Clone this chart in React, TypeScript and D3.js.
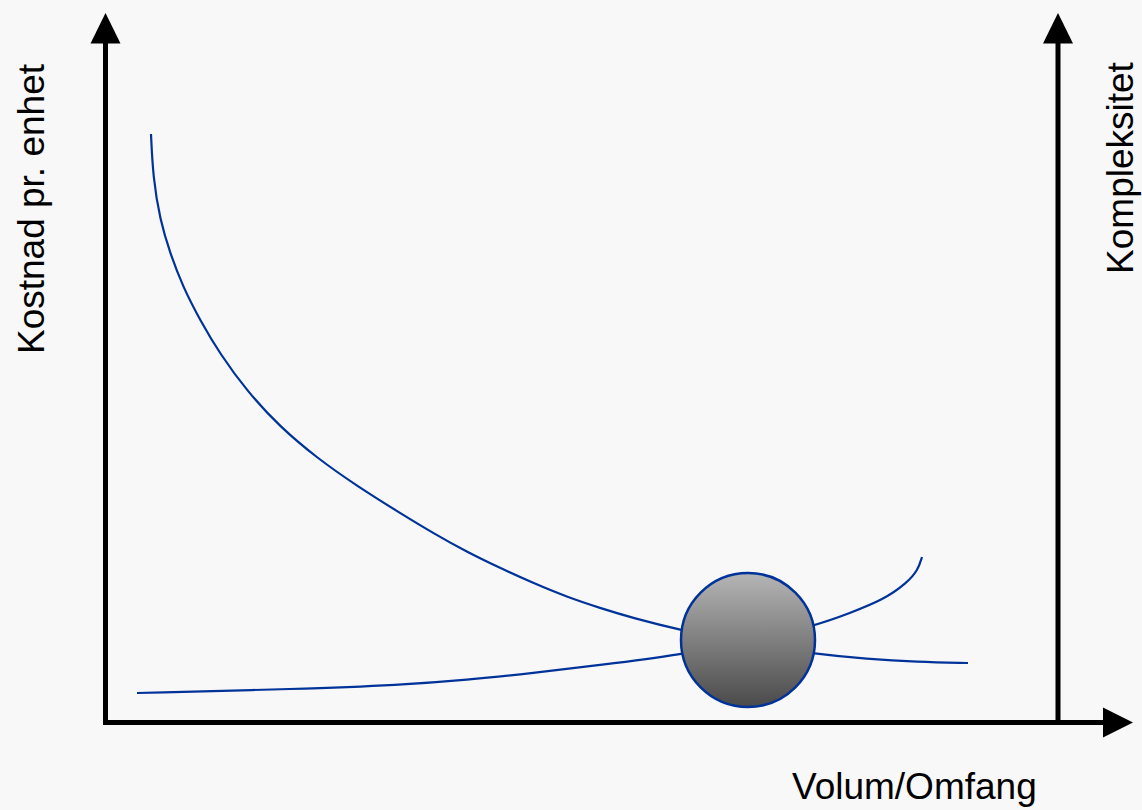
import React, { useEffect, useRef } from "react";
import * as d3 from "d3";

// Curve values (x = volume, y = value)
const costVolume = [46, 48, 55, 65, 78, 95, 115, 142, 175, 212, 252, 295, 328, 362, 395, 428, 462, 495, 528, 575, 643, 710, 762, 812, 863];
const costValue = [588, 545, 502, 469, 435, 402, 368, 331, 295, 264, 236, 209, 189, 170, 154, 139, 125, 114, 104, 92, 78, 68, 63, 60, 59];

const complexityVolume = [32, 195, 295, 362, 428, 495, 575, 643, 710, 745, 778, 802, 813, 817];
const complexityValue = [29, 33, 37, 42, 49, 57, 67, 81, 96, 109, 122, 139, 152, 165];

const optimum = { volume: 643, value: 82 };

const labels = {
  x: "Volum/Omfang",
  yLeft: "Kostnad pr. enhet",
  yRight: "Kompleksitet",
};

const App = () => {
  const ref = useRef<SVGSVGElement | null>(null);

  useEffect(() => {
    const width = 1142;
    const height = 810;
    const left = 105.5;
    const right = 1058;
    const bottom = 722.5;
    const top = 43;

    const xScale = d3.scaleLinear().domain([0, 953]).range([105, 1058]);
    const yScale = d3.scaleLinear().domain([0, 700]).range([722, 22]);

    const svg = d3.select(ref.current);
    svg.selectAll("*").remove();

    svg.append("rect").attr("width", width).attr("height", height).attr("fill", "#f8f8f8");

    const defs = svg.append("defs");
    const grad = defs
      .append("linearGradient")
      .attr("id", "ballGrad")
      .attr("x1", 0)
      .attr("y1", 0)
      .attr("x2", 0)
      .attr("y2", 1);
    grad.append("stop").attr("offset", "0%").attr("stop-color", "#b5b5b5");
    grad.append("stop").attr("offset", "100%").attr("stop-color", "#4a4a4a");

    // Axes with arrowheads
    const axes = svg.append("g").attr("stroke", "#000").attr("stroke-width", 5).attr("fill", "none");
    axes.append("line").attr("x1", left).attr("y1", bottom + 2.5).attr("x2", left).attr("y2", top);
    axes.append("line").attr("x1", right).attr("y1", bottom).attr("x2", right).attr("y2", top);
    axes.append("line").attr("x1", left - 2.5).attr("y1", bottom).attr("x2", 1104).attr("y2", bottom);

    const arrows = [
      [[left, 13], [left - 15, 43.5], [left + 15, 43.5]],
      [[right, 13], [right - 15, 43.5], [right + 15, 43.5]],
      [[1133, bottom], [1103, bottom - 15], [1103, bottom + 15]],
    ];
    svg
      .selectAll("polygon.arrow")
      .data(arrows)
      .join("polygon")
      .attr("class", "arrow")
      .attr("points", (d) => d.map((p) => p.join(",")).join(" "))
      .attr("fill", "#000");

    const line = d3
      .line<[number, number]>()
      .x((d) => xScale(d[0]))
      .y((d) => yScale(d[1]))
      .curve(d3.curveBasis);

    const cost = costVolume.map((v, i) => [v, costValue[i]] as [number, number]);
    const complexity = complexityVolume.map((v, i) => [v, complexityValue[i]] as [number, number]);

    svg
      .selectAll("path.curve")
      .data([cost, complexity])
      .join("path")
      .attr("class", "curve")
      .attr("fill", "none")
      .attr("stroke", "#003399")
      .attr("stroke-width", 2.2)
      .attr("d", (d) => line(d));

    svg
      .append("circle")
      .attr("cx", xScale(optimum.volume))
      .attr("cy", yScale(optimum.value))
      .attr("r", 67)
      .attr("fill", "url(#ballGrad)")
      .attr("stroke", "#003399")
      .attr("stroke-width", 2.5);

    const font = "'Liberation Sans', Arial, sans-serif";

    svg
      .append("text")
      .attr("transform", "translate(44,209) rotate(-90)")
      .attr("text-anchor", "middle")
      .attr("font-family", font)
      .attr("font-size", 37)
      .attr("fill", "#000")
      .text(labels.yLeft);

    svg
      .append("text")
      .attr("transform", "translate(1133,168) rotate(-90)")
      .attr("text-anchor", "middle")
      .attr("font-family", font)
      .attr("font-size", 37)
      .attr("fill", "#000")
      .text(labels.yRight);

    svg
      .append("text")
      .attr("x", 792)
      .attr("y", 799)
      .attr("font-family", font)
      .attr("font-size", 37)
      .attr("fill", "#000")
      .text(labels.x);
  }, []);

  return (
    <div style={{ position: "absolute", left: 0, top: 0 }}>
      <svg ref={ref} width="1142" height="810" style={{ display: "block" }}></svg>
    </div>
  );
};

export default App;
